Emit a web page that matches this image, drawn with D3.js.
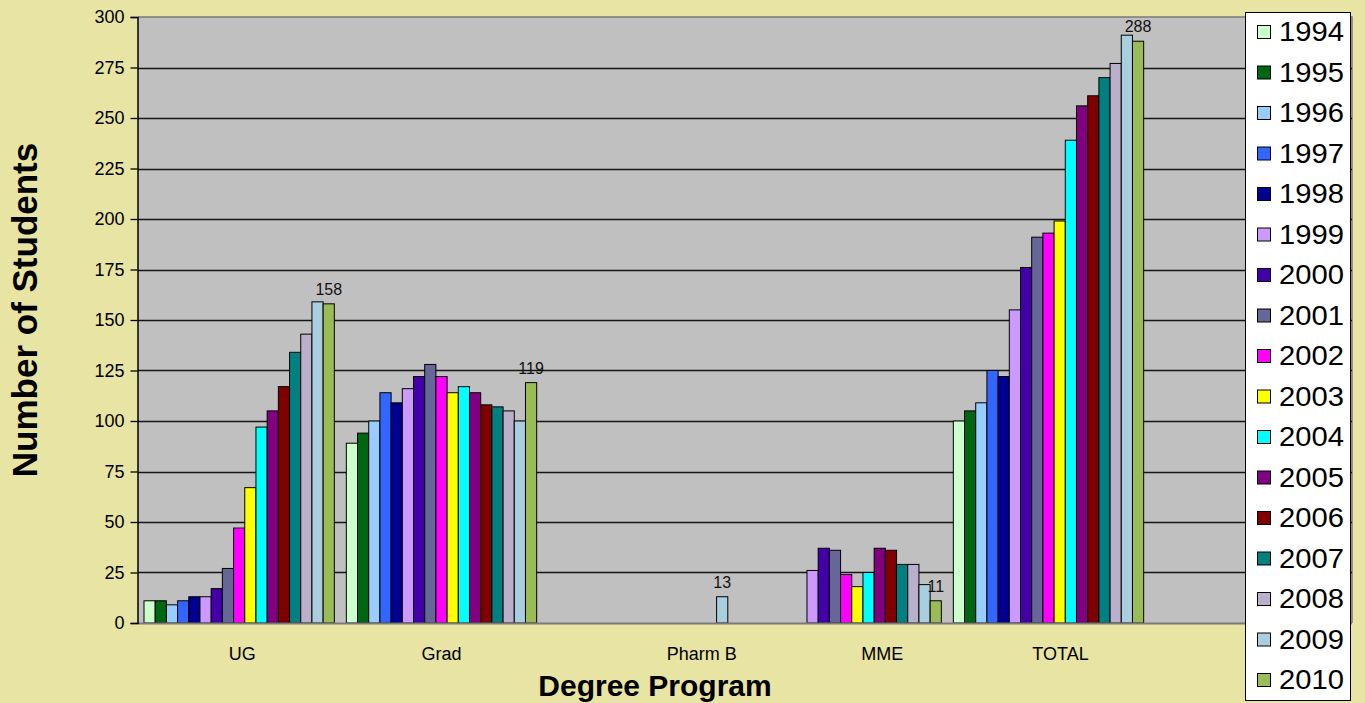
<!DOCTYPE html>
<html>
<head>
<meta charset="utf-8">
<script src="https://cdn.jsdelivr.net/npm/d3@7"></script>
<style>
  html, body { margin: 0; padding: 0; background: #E8E4A4; }
  svg { display: block; font-family: Arial, "Liberation Sans", sans-serif; }
</style>
</head>
<body>
<svg id="chart" width="1365" height="703"></svg>
<script>
// Enrolment by degree program, one series per intake year
const categories = ["UG", "Grad", "Pharm B", "MME", "TOTAL"];
const years = ["1994","1995","1996","1997","1998","1999","2000","2001","2002",
               "2003","2004","2005","2006","2007","2008","2009","2010"];
const ugValues     = [11, 11, 9, 11, 13, 13, 17, 27, 47, 67, 97, 105, 117, 134, 143, 159, 158];
const gradValues   = [89, 94, 100, 114, 109, 116, 122, 128, 122, 114, 117, 114, 108, 107, 105, 100, 119];
const pharmBValues = [null, null, null, null, null, null, null, null, null, null, null, null, null, null, null, 13, null];
const mmeValues    = [null, null, null, null, null, 26, 37, 36, 24, 18, 25, 37, 36, 29, 29, 19, 11];
const totalValues  = [100, 105, 109, 125, 122, 155, 176, 191, 193, 199, 239, 256, 261, 270, 277, 291, 288];
const yTickValues  = [0, 25, 50, 75, 100, 125, 150, 175, 200, 225, 250, 275, 300];
const yearColors = ["#CCFFCC","#006611","#99CCFF","#3366FF","#000090","#CC99FF","#4400A8","#666699",
                    "#FF00FF","#FFFF00","#00FFFF","#800080","#800000","#008080","#BBB0CC","#A9CFDE","#9BBB59"];

const seriesByCategory = [ugValues, gradValues, pharmBValues, mmeValues, totalValues];

const svg = d3.select("#chart");
const plot = { left: 138, right: 1352, top: 17, bottom: 623 };

// The category axis keeps one spare slot at the right end, where the legend sits
const x0 = d3.scaleBand()
  .domain([...categories, ""])
  .range([plot.left, plot.right])
  .paddingInner(0).paddingOuter(0);
const x1 = d3.scaleBand()
  .domain(years)
  .range([6, x0.bandwidth() - 6]);
const y = d3.scaleLinear().domain([0, 300]).range([plot.bottom, plot.top]);
const color = d3.scaleOrdinal().domain(years).range(yearColors);

// Plot area
svg.append("rect")
  .attr("x", plot.left).attr("y", plot.top)
  .attr("width", plot.right - plot.left).attr("height", plot.bottom - plot.top)
  .attr("fill", "#C0C0C0");
svg.append("path")
  .attr("d", `M${plot.left},${plot.top}H${plot.right}V${plot.bottom}`)
  .attr("fill", "none").attr("stroke", "#7a7a7a").attr("stroke-width", 1.5);

// Horizontal gridlines
svg.append("g")
  .selectAll("line")
  .data(yTickValues.filter(v => v > 0 && v < 300))
  .join("line")
  .attr("x1", plot.left).attr("x2", plot.right)
  .attr("y1", d => Math.round(y(d)) + 0.5).attr("y2", d => Math.round(y(d)) + 0.5)
  .attr("stroke", "#151515").attr("stroke-width", 1.4);

// Bars
const bars = [];
categories.forEach((cat, ci) => {
  seriesByCategory[ci].forEach((v, yi) => {
    if (v != null) bars.push({ cat, year: years[yi], value: v });
  });
});
svg.append("g")
  .selectAll("rect")
  .data(bars)
  .join("rect")
  .attr("x", d => x0(d.cat) + x1(d.year))
  .attr("y", d => y(d.value))
  .attr("width", x1.bandwidth())
  .attr("height", d => y(0) - y(d.value))
  .attr("fill", d => color(d.year))
  .attr("stroke", "#000").attr("stroke-width", 1);

// Value label on the most recent bar of each program
const latest = categories.map((cat, ci) => {
  const vals = seriesByCategory[ci];
  let idx = vals.length - 1;
  while (idx >= 0 && vals[idx] == null) idx--;
  return { cat, year: years[idx], value: vals[idx] };
});
svg.append("g")
  .selectAll("text")
  .data(latest)
  .join("text")
  .attr("x", d => x0(d.cat) + x1(d.year) + x1.bandwidth() / 2)
  .attr("y", d => y(d.value) - 9)
  .attr("text-anchor", "middle")
  .attr("font-size", 16)
  .attr("fill", "#111")
  .text(d => d.value);

// Bottom axis line
svg.append("line")
  .attr("x1", plot.left).attr("x2", plot.right)
  .attr("y1", plot.bottom + 0.5).attr("y2", plot.bottom + 0.5)
  .attr("stroke", "#7a7a7a").attr("stroke-width", 2);

// Y axis
const yAxis = svg.append("g")
  .attr("transform", `translate(${plot.left - 0.5},0)`)
  .call(d3.axisLeft(y).tickValues(yTickValues).tickSize(7).tickPadding(6));
yAxis.select(".domain").attr("stroke", "#000").attr("stroke-width", 1.5);
yAxis.selectAll(".tick line").attr("stroke", "#000").attr("stroke-width", 1.3);
yAxis.selectAll(".tick text")
  .attr("font-family", "Arial, 'Liberation Sans', sans-serif")
  .attr("font-size", 18).attr("fill", "#000");

// Category labels (some program names sit off their band centre)
const labelNudge = { "UG": 3, "Grad": 0, "Pharm B": 58, "MME": 36, "TOTAL": 12 };
const xAxis = svg.append("g")
  .attr("transform", `translate(0,${plot.bottom})`)
  .call(d3.axisBottom(x0).tickValues(categories).tickSize(0).tickPadding(24));
xAxis.select(".domain").remove();
xAxis.selectAll(".tick text")
  .attr("dx", d => labelNudge[d] || 0)
  .attr("font-family", "Arial, 'Liberation Sans', sans-serif")
  .attr("font-size", 18).attr("fill", "#000");

// Axis titles
svg.append("text")
  .attr("transform", "translate(37,310) rotate(-90)")
  .attr("text-anchor", "middle")
  .attr("font-size", 35).attr("font-weight", "bold")
  .text("Number of Students");
svg.append("text")
  .attr("x", 655).attr("y", 696)
  .attr("text-anchor", "middle")
  .attr("font-size", 30).attr("font-weight", "bold")
  .text("Degree Program");

// Legend
const legend = { x: 1245, y: 12, w: 105, h: 688 };
const lg = svg.append("g");
lg.append("rect")
  .attr("x", legend.x + 0.5).attr("y", legend.y + 0.5)
  .attr("width", legend.w).attr("height", legend.h)
  .attr("fill", "#fff").attr("stroke", "#000").attr("stroke-width", 1);
const rowY = d3.scalePoint().domain(years).range([legend.y + 20, legend.y + legend.h - 20]);
const items = lg.selectAll("g.item").data(years).join("g").attr("class", "item")
  .attr("transform", d => `translate(${legend.x},${rowY(d)})`);
items.append("rect")
  .attr("x", 12.5).attr("y", -6.5).attr("width", 13).attr("height", 13)
  .attr("fill", d => color(d)).attr("stroke", "#000").attr("stroke-width", 1);
items.append("text")
  .attr("transform", "translate(34,0) scale(1.08,1)")
  .attr("dy", "0.35em")
  .attr("font-size", 27).attr("fill", "#000")
  .text(d => d);
</script>
</body>
</html>
